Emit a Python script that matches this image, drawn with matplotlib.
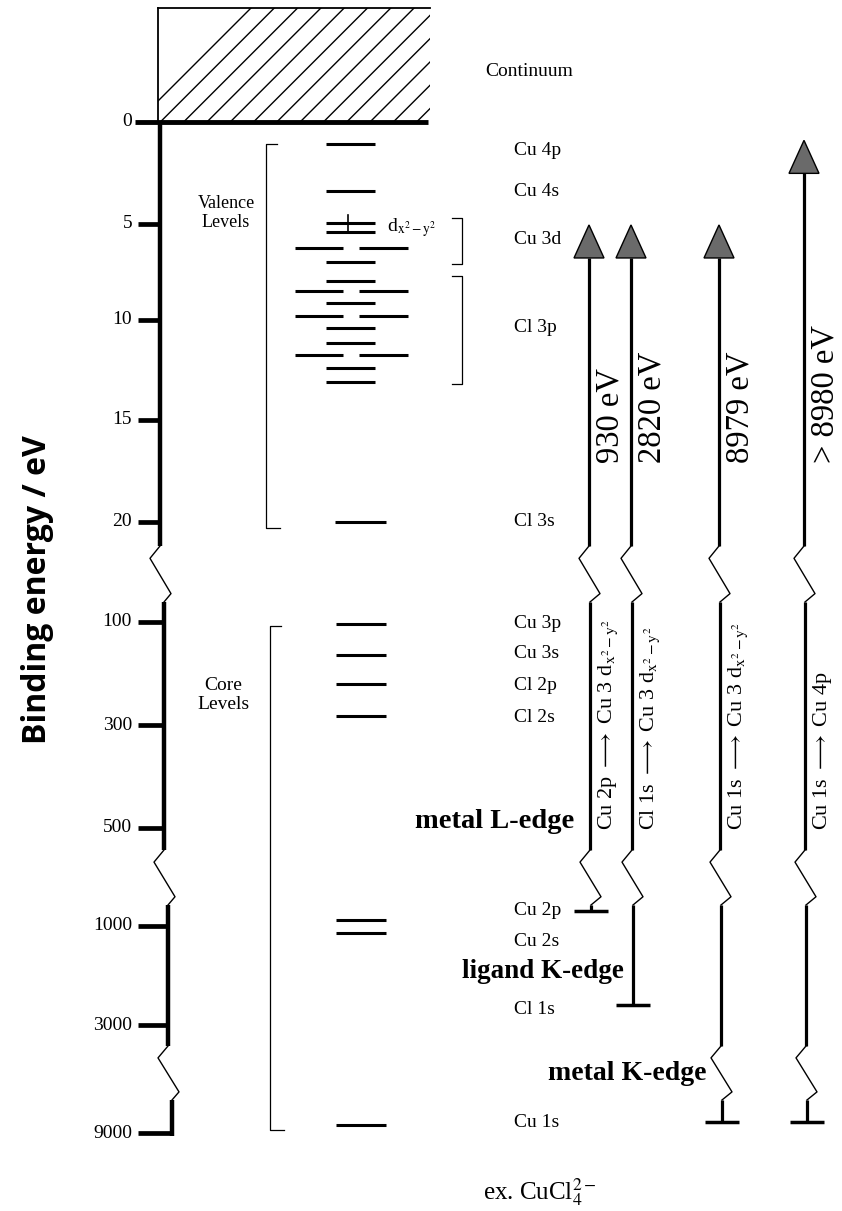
import numpy as np
import matplotlib.pyplot as plt
from matplotlib.patches import Rectangle, Polygon

plt.rcParams['font.family'] = ['Liberation Serif', 'DejaVu Serif']
plt.rcParams['mathtext.fontset'] = 'stix'

# broken binding-energy axis: tick values (eV) and the row each one sits on
tick_vals = [0, 5, 10, 15, 20, 100, 300, 500, 1000, 3000, 9000]
tick_labels = ['0', '5', '10', '15', '20', '100', '300', '500', '1000', '3000', '9000']
tick_rows = [122, 224, 320, 420, 522, 622, 725, 828, 926, 1025, 1133]
axis_breaks = [(546, 602), (850, 905), (1046, 1100)]

# valence levels (eV); split = two bars side by side
valence_E = [1.1, 3.4, 4.95, 5.42, 6.25, 6.98, 7.97, 8.49, 9.11, 9.79, 10.4, 11.15, 11.75, 12.4, 13.1]
valence_split = [0, 0, 0, 0, 1, 0, 0, 1, 0, 1, 0, 0, 1, 0, 0]
cl3s_E = 20
core_E = [104, 164, 220, 283, 969, 1141, 8556]

# level names on the right
level_names = ['Cu 4p', 'Cu 4s', 'Cu 3d', 'Cl 3p', 'Cl 3s', 'Cu 3p', 'Cu 3s',
               'Cl 2p', 'Cl 2s', 'Cu 2p', 'Cu 2s', 'Cl 1s', 'Cu 1s']
level_name_E = [1.4, 3.4, 5.8, 10.35, 20, 102, 162, 224, 286, 923, 1323, 2677, 8444]

# groups
d_group = (4.7, 7.1)
p_group = (7.7, 13.2)

# transitions
edge_energy = ['930 eV', '2820 eV', '8979 eV', '> 8980 eV']
trans_labels = [r'Cu 2p $\longrightarrow$ Cu 3 d$_{\mathrm{x^2-y^2}}$',
                r'Cl 1s $\longrightarrow$ Cu 3 d$_{\mathrm{x^2-y^2}}$',
                r'Cu 1s $\longrightarrow$ Cu 3 d$_{\mathrm{x^2-y^2}}$',
                r'Cu 1s $\longrightarrow$ Cu 4p']
arrow_start_E = [923, 2600, 8390, 8390]
arrow_end_E = [5.05, 5.05, 5.05, 0.9]
arrow_x = [589, 631, 719, 804]


def row(e):
    return np.interp(e, tick_vals, tick_rows)


fig = plt.figure(figsize=(8.42, 12.11), dpi=100)
ax = fig.add_axes([0, 0, 1, 1])
ax.set_xlim(0, 842)
ax.set_ylim(1211, 0)
ax.axis('off')


def zigzag(x, y0, y1, shift=0, lw=1.0):
    h = y1 - y0
    ax.plot([x, x - 10, x + 11, x + shift], [y0, y0 + 0.22 * h, y0 + 0.85 * h, y1],
            color='k', lw=lw)


def broken_vline(x, ya, yb, lw, shift):
    top = ya
    for b0, b1 in axis_breaks:
        if ya < b0 and b1 < yb:
            ax.plot([x, x], [top, b0], color='k', lw=lw, solid_capstyle='butt')
            zigzag(x, b0, b1, shift)
            x += shift
            top = b1
    ax.plot([x, x], [top, yb], color='k', lw=lw, solid_capstyle='butt')
    return x


# continuum box
top0 = row(0)
box = Rectangle((158, 8), 272, top0 - 8, fill=False, lw=0)
ax.add_patch(box)
for c in np.arange(137, 430, 23.3):
    ln, = ax.plot([c, c + 130], [top0, top0 - 130], color='k', lw=1.0)
    ln.set_clip_path(box)
ax.plot([158, 430], [8, 8], color='k', lw=1.3)
ax.plot([158, 158], [8, top0], color='k', lw=1.3)
ax.plot([135, 428], [top0, top0], color='k', lw=3.5, solid_capstyle='butt')
ax.text(485, 72, 'Continuum', fontsize=14, va='center')

# energy axis
broken_vline(160, top0, 1136, 3.2, 4)
for v, lab, r in zip(tick_vals, tick_labels, tick_rows):
    nb = sum(1 for b0, b1 in axis_breaks if b1 < r)
    if v != 0:
        ax.plot([138, 160 + 4 * nb], [r, r], color='k', lw=3.4, solid_capstyle='butt')
    ax.text(132, r, lab, fontsize=14, ha='right', va='center')

ax.text(38, 590, 'Binding energy / eV', rotation=90, fontsize=23, weight='bold',
        family=['Open Sans', 'DejaVu Sans'], ha='center', va='center')

# valence levels
for e, s in zip(valence_E, valence_split):
    r = row(e)
    if s:
        ax.plot([295, 343], [r, r], color='k', lw=2.2, solid_capstyle='butt')
        ax.plot([359, 408], [r, r], color='k', lw=2.2, solid_capstyle='butt')
    else:
        ax.plot([326, 375], [r, r], color='k', lw=2.2, solid_capstyle='butt')
ax.plot([348, 348], [row(valence_E[2]) - 8, row(valence_E[3])], color='k', lw=1.2)
ax.text(387, row(valence_E[2]) + 5, r'd$_{\mathrm{x^2-y^2}}$', fontsize=14, va='center')

ax.plot([335, 386], [row(cl3s_E)] * 2, color='k', lw=2.2, solid_capstyle='butt')
for e in core_E:
    ax.plot([336, 386], [row(e)] * 2, color='k', lw=2.2, solid_capstyle='butt')

# brackets
vt, vb = row(valence_E[0]), row(cl3s_E) + 6
ax.plot([277, 266, 266, 280], [vt, vt, vb, vb], color='k', lw=0.9)
ct, cb = row(core_E[0]) + 2, row(core_E[-1]) + 5
ax.plot([281, 270, 270, 284], [ct, ct, cb, cb], color='k', lw=0.9)
for g in (d_group, p_group):
    ax.plot([452, 462, 462, 452], [row(g[0]), row(g[0]), row(g[1]), row(g[1])],
            color='k', lw=0.9)

ax.text(226, 213, 'Valence\nLevels', fontsize=13, ha='center', va='center', linespacing=1.1)
ax.text(223, 695, 'Core\nLevels', fontsize=14, ha='center', va='center', linespacing=1.1)

for name, e in zip(level_names, level_name_E):
    ax.text(514, row(e), name, fontsize=14, va='center')

ax.text(415, 822, 'metal L-edge', fontsize=20.5, weight='bold', va='center')
ax.text(462, 972, 'ligand K-edge', fontsize=19.5, weight='bold', va='center')
ax.text(548, 1073, 'metal K-edge', fontsize=20, weight='bold', va='center')

# transition arrows
for x, e0, e1, lab, tl in zip(arrow_x, arrow_start_E, arrow_end_E, edge_energy, trans_labels):
    tip = row(e1)
    bot = row(e0)
    head = Polygon([[x, tip], [x - 15, tip + 33], [x + 15, tip + 33]], closed=True,
                   facecolor='#6a6a6a', edgecolor='k', lw=1.0, zorder=3)
    ax.add_patch(head)
    xb = broken_vline(x, tip + 33, bot, 2.3, 1)
    ax.plot([xb - 17, xb + 17], [bot, bot], color='k', lw=2.5, solid_capstyle='butt')
    ax.text(x + 21, 463, lab, rotation=90, fontsize=23.5, ha='center', va='bottom')
    ax.text(x + 19, 830, tl, rotation=90, fontsize=16, ha='center', va='bottom')

ax.text(483, 1192, r'ex. CuCl$_4^{2-}$', fontsize=18, va='center')

fig.savefig('out.png', dpi=100)
